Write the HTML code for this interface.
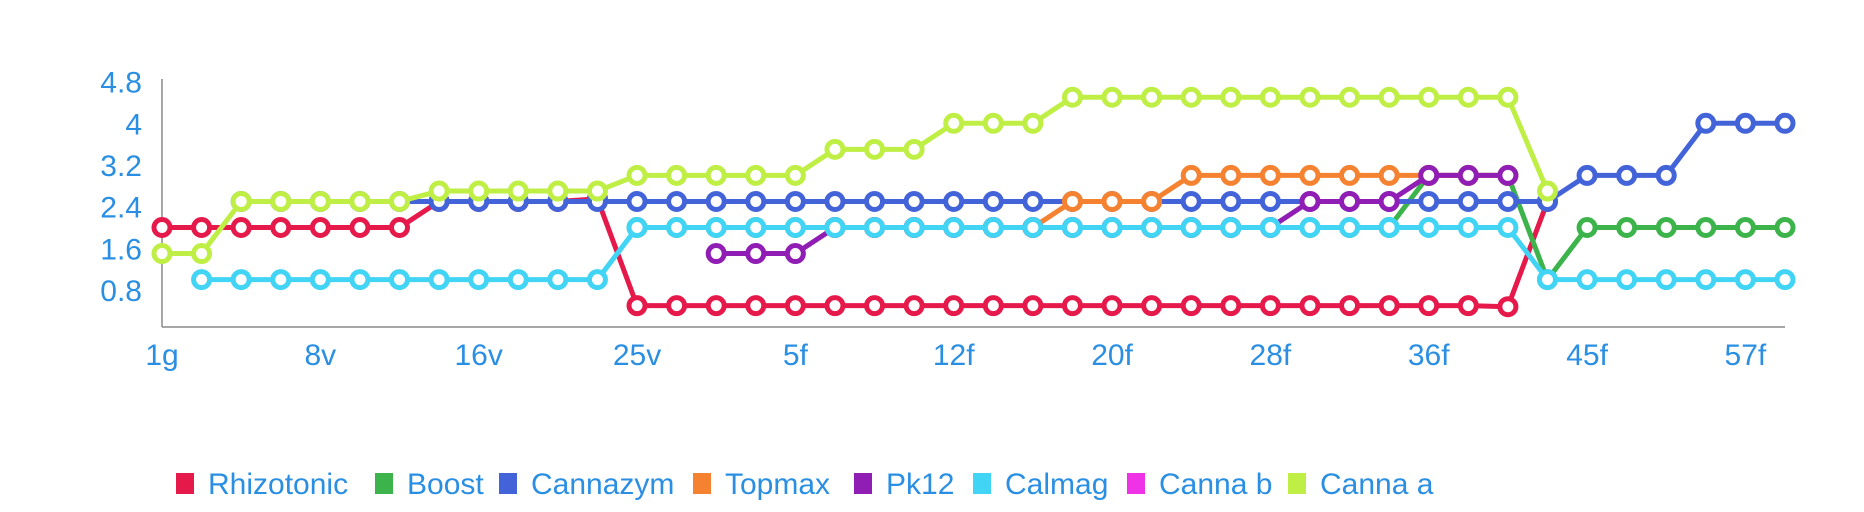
<!DOCTYPE html>
<html><head><meta charset="utf-8"><style>
html,body{margin:0;padding:0;background:#fff;}
body{width:1864px;height:512px;overflow:hidden;font-family:"Liberation Sans",sans-serif;}
</style></head><body>
<svg id="chart" width="1864" height="512" xmlns="http://www.w3.org/2000/svg" style="display:block">
<g id="axes"></g>
<g id="series"></g>
<g id="legend"></g>
</svg>
<script>
const categories = ["1g","2g","3v","4v","8v","9v","10v","11v","16v","17v","18v","19v","25v","26v","1f","2f","5f","6f","7f","8f","12f","13f","14f","15f","20f","21f","22f","23f","28f","29f","30f","31f","36f","37f","38f","40f","45f","48f","51f","54f","57f","60f"];
const tickLabelIdx = [0,4,8,12,16,20,24,28,32,36,40];
const yTicks = [0.8,1.6,2.4,3.2,4,4.8];
const seriesNames = ["Rhizotonic","Boost","Cannazym","Topmax","Pk12","Calmag","Canna b","Canna a"];
const seriesColors = ["#e6194b","#3cb44b","#4363d8","#f58231","#911eb4","#42d4f4","#f032e6","#bfef45"];
const N = null;
const rhizotonic = [2,2,2,2,2,2,2,2.5,2.5,2.5,2.5,2.55,0.5,0.5,0.5,0.5,0.5,0.5,0.5,0.5,0.5,0.5,0.5,0.5,0.5,0.5,0.5,0.5,0.5,0.5,0.5,0.5,0.5,0.5,0.48,2.5,N,N,N,N,N,N];
const boost = [N,N,N,N,N,N,N,N,N,N,N,N,2,2,2,2,2,2,2,2,2,2,2,2,2,2,2,2,2,2,2,2,3,3,3,1,2,2,2,2,2,2];
const cannazym = [N,N,2.5,2.5,2.5,2.5,2.5,2.5,2.5,2.5,2.5,2.5,2.5,2.5,2.5,2.5,2.5,2.5,2.5,2.5,2.5,2.5,2.5,2.5,2.5,2.5,2.5,2.5,2.5,2.5,2.5,2.5,2.5,2.5,2.5,2.5,3,3,3,4,4,4];
const topmax = [N,N,N,N,N,N,N,N,N,N,N,N,N,N,N,N,N,2,2,2,2,2,2,2.5,2.5,2.5,3,3,3,3,3,3,3,3,3,N,N,N,N,N,N,N];
const pk12 = [N,N,N,N,N,N,N,N,N,N,N,N,N,N,1.5,1.5,1.5,2,2,2,2,2,2,2,2,2,2,2,2,2.5,2.5,2.5,3,3,3,N,N,N,N,N,N,N];
const calmag = [N,1,1,1,1,1,1,1,1,1,1,1,2,2,2,2,2,2,2,2,2,2,2,2,2,2,2,2,2,2,2,2,2,2,2,1,1,1,1,1,1,1];
const cannaB = [N,N,N,N,N,N,N,N,N,N,N,N,N,N,N,N,N,N,N,N,N,N,N,N,N,N,N,N,N,N,N,N,N,N,N,N,N,N,N,N,N,N];
const cannaA = [1.5,1.5,2.5,2.5,2.5,2.5,2.5,2.7,2.7,2.7,2.7,2.7,3,3,3,3,3,3.5,3.5,3.5,4,4,4,4.5,4.5,4.5,4.5,4.5,4.5,4.5,4.5,4.5,4.5,4.5,4.5,2.7,N,N,N,N,N,N];
const allSeries = [rhizotonic,boost,cannazym,topmax,pk12,calmag,cannaB,cannaA];

const NS="http://www.w3.org/2000/svg";
const X0=162, DX=(1785-162)/(categories.length-1);
const Y0=331.7, PU=52.1;
const xs=i=>X0+i*DX;
const ys=v=>Y0-v*PU;
const TXT="#2a8fe3";
function mk(tag,attrs,parent){const e=document.createElementNS(NS,tag);for(const k in attrs)e.setAttribute(k,attrs[k]);parent.appendChild(e);return e;}
const axes=document.getElementById('axes');
let yl=mk('line',{x1:X0,y1:79,x2:X0,y2:327,stroke:'#888','stroke-width':1.5},axes);


let xl=mk('line',{x1:X0,y1:327,x2:1785,y2:327,stroke:'#888','stroke-width':1.5},axes);


yTicks.forEach(v=>{
  const t=mk('text',{x:142,y:ys(v)+11,'text-anchor':'end','font-size':30,fill:TXT,'font-family':'Liberation Sans, sans-serif'},axes);
  t.textContent=String(v);
  
  
});
tickLabelIdx.forEach(i=>{
  const t=mk('text',{x:xs(i),y:365,'text-anchor':'middle','font-size':30,fill:TXT,'font-family':'Liberation Sans, sans-serif'},axes);
  t.textContent=categories[i];
  
  
});
const sg=document.getElementById('series');
allSeries.forEach((data,s)=>{
  const g=mk('g',{},sg);
  
  
  let d='',pen=false;
  data.forEach((v,i)=>{ if(v===null){pen=false;return;} d+=(pen?'L':'M')+xs(i)+' '+ys(v)+' '; pen=true; });
  if(d){const p=mk('path',{d:d,fill:'none',stroke:seriesColors[s],'stroke-width':5,'stroke-linejoin':'round'},g);
  
  }
  data.forEach((v,i)=>{ if(v===null)return;
    const c=mk('circle',{cx:xs(i),cy:ys(v),r:8,fill:'#fff',stroke:seriesColors[s],'stroke-width':5},g);
    
    
  });
});
const lg=document.getElementById('legend');
const legX=[176,375,499,693,854,973,1127,1288];
seriesNames.forEach((n,s)=>{
  const g=mk('g',{},lg);
  
  
  mk('rect',{x:legX[s],y:473,width:18,height:21,fill:seriesColors[s]},g);
  const t=mk('text',{x:legX[s]+32,y:494,'font-size':30,fill:TXT,'font-family':'Liberation Sans, sans-serif'},g);
  t.textContent=n;
});
</script>
</body></html>
